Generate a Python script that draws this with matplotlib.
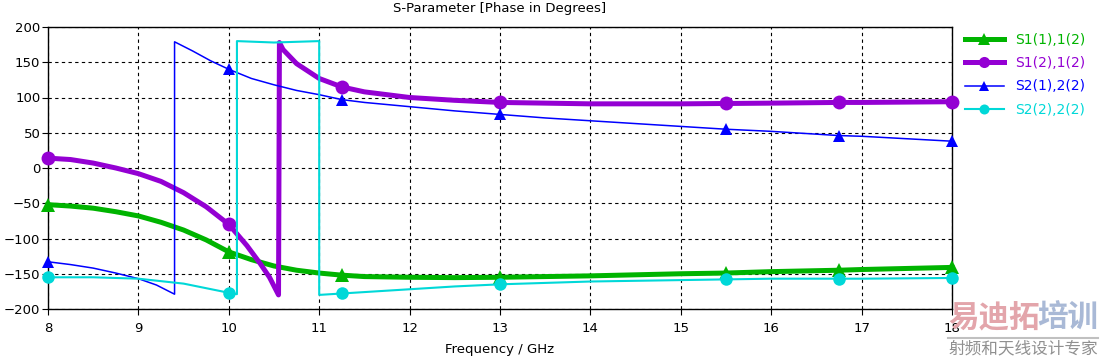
import matplotlib
matplotlib.use("Agg")
import matplotlib.pyplot as plt
import numpy as np

# marker frequencies (same for every trace)
marker_freqs = [8, 10, 11.25, 13, 15.5, 16.75, 18]

# S1(1),1(2)
s11_freq = [8, 8.25, 8.5, 8.75, 9, 9.25, 9.5, 9.75, 10, 10.25, 10.5, 10.75, 11, 11.25,
            11.5, 12, 12.5, 13, 14, 15, 15.5, 16, 16.75, 17, 18]
s11_phase = [-52, -54, -57, -62, -68, -77, -88, -102, -119, -130, -139, -145, -149, -152,
             -154, -155, -155.5, -155, -153, -150, -149, -147, -145, -144, -141]

# S1(2),1(2)
s21_freq = [8, 8.25, 8.5, 8.75, 9, 9.25, 9.5, 9.75, 10, 10.2, 10.35, 10.45, 10.55,
            10.56, 10.6, 10.75, 11, 11.25, 11.5, 12, 12.5, 13, 14, 15, 15.5, 16, 16.75, 17, 18]
s21_phase = [14, 12, 7, 0, -8, -19, -35, -55, -80, -110, -136, -155, -180,
             178, 168, 148, 127, 115, 108, 100, 96, 93, 91, 91, 91.5, 92, 93, 93, 94]

# S2(1),2(2)
s12_freq = [8, 8.25, 8.5, 8.75, 9, 9.2, 9.4, 9.4, 9.6, 9.8, 10, 10.25, 10.5, 10.75, 11,
            11.25, 11.5, 12, 12.5, 13, 13.5, 14, 15, 15.5, 16, 16.75, 17, 18]
s12_phase = [-133, -137, -142, -149, -157, -166, -179, 179, 166, 152, 140, 127, 118, 110, 104,
             97, 93, 87, 81, 76, 71, 67, 59, 55, 52, 46, 45, 38]

# S2(2),2(2)
s22_freq = [8, 8.5, 9, 9.5, 10, 10.09, 10.09, 10.5, 11, 11, 11.25, 11.5, 12, 12.5, 13,
            14, 15, 15.5, 16, 16.75, 17, 18]
s22_phase = [-155, -155, -157, -164, -177, -179, 180, 178, 180, -180, -178, -176, -172, -168, -165,
             -161, -159, -158, -157, -157, -157, -156]

traces = [
    ("S1(1),1(2)", s11_freq, s11_phase, "#00b400", 3.6, "^", 10),
    ("S1(2),1(2)", s21_freq, s21_phase, "#9400d3", 3.6, "o", 10),
    ("S2(1),2(2)", s12_freq, s12_phase, "#0000ff", 1.1, "^", 9),
    ("S2(2),2(2)", s22_freq, s22_phase, "#00d8d8", 1.5, "o", 9),
]

fig = plt.figure(figsize=(11.02, 3.61), dpi=100)
ax = fig.add_axes([48 / 1102, 1 - 309 / 361, (952 - 48) / 1102, (309 - 27) / 361])

for label, freq, phase, color, lw, mk, ms in traces:
    freq = np.array(freq)
    idx = [int(np.where(np.isclose(freq, f))[0][0]) for f in marker_freqs]
    ax.plot(freq, phase, color=color, lw=lw, marker=mk, ms=ms, mew=0, markevery=idx,
            label=label, clip_on=False, zorder=3)

ax.set_xlim(8, 18)
ax.set_ylim(-200, 200)
ax.set_xticks(np.arange(8, 19, 1))
ax.set_yticks(np.arange(-200, 201, 50))
ax.grid(True, color="black", linestyle=(0, (3, 3)), linewidth=0.8)
ax.tick_params(labelsize=9.5, length=4, width=0.8, colors="black")
ax.tick_params(axis="x", pad=5)
ax.tick_params(axis="y", pad=1.5)
for sp in ax.spines.values():
    sp.set_linewidth(1.0)
ax.set_title("S-Parameter [Phase in Degrees]", fontsize=9.5, pad=11)
ax.set_xlabel("Frequency / GHz", fontsize=9.5, labelpad=6)

leg = ax.legend(loc="upper left", bbox_to_anchor=(1.005, 1.01), frameon=False,
                fontsize=10, handlelength=2.8, numpoints=1, labelspacing=0.68,
                borderaxespad=0.2, markerscale=0.8)
for text, line in zip(leg.get_texts(), leg.get_lines()):
    text.set_color(line.get_color())

# watermark
cjk = ["Noto Sans CJK SC", "DejaVu Sans"]
fig.text(948 / 1102, 1 - 318 / 361, "易迪拓", color="#e3a5ab", fontsize=22,
         family=cjk, weight="bold", va="center", ha="left")
fig.text(1098 / 1102, 1 - 318 / 361, "培训", color="#a9b9d6", fontsize=22,
         family=cjk, weight="bold", va="center", ha="right")
fig.add_artist(plt.Line2D([948 / 1102, 1098 / 1102], [1 - 338 / 361, 1 - 338 / 361],
                          color="#c0c0c0", lw=1.5))
fig.text(1023 / 1102, 1 - 349 / 361, "射频和天线设计专家", color="#909090", fontsize=12,
         family=cjk, va="center", ha="center")

fig.savefig("out.png", dpi=100)
